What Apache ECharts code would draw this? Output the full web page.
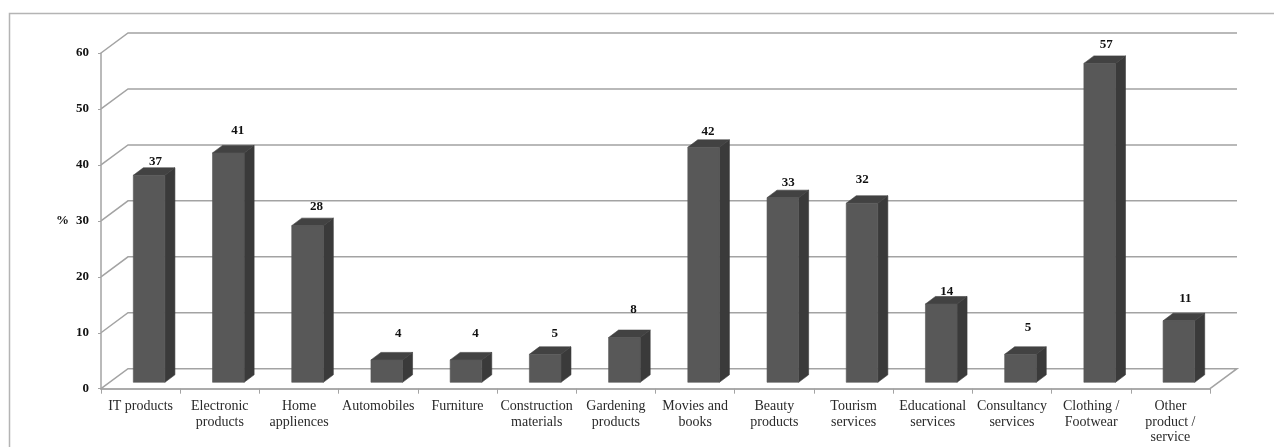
<!DOCTYPE html>
<html>
<head>
<meta charset="utf-8">
<style>html,body{margin:0;padding:0;background:#fff}#chart{width:1274px;height:447px}</style>
<script src="https://cdn.jsdelivr.net/npm/echarts@6/dist/echarts.min.js"></script>
</head>
<body>
<div id="chart"></div>
<script>
// Share of respondents per product or service category (%)
const categories = [
  'IT products', 'Electronic\nproducts', 'Home\nappliences', 'Automobiles', 'Furniture',
  'Construction\nmaterials', 'Gardening\nproducts', 'Movies and\nbooks', 'Beauty\nproducts',
  'Tourism\nservices', 'Educational\nservices', 'Consultancy\nservices', 'Clothing /\nFootwear',
  'Other\nproduct /\nservice'
];
const values = [37, 41, 28, 4, 4, 5, 8, 42, 33, 32, 14, 5, 57, 11];
const yTicks = [0, 10, 20, 30, 40, 50, 60];

// Hand placement of the value labels, relative to the category centre and the bar top
const labelShiftX = [15, 18, 17.5, 20, 18, 18, 17.5, 13, 14, 8.6, 14, 16, 15, 15];
const labelLift = [14, 22.5, 19, 26, 26, 21, 27.5, 16, 15, 23.7, 12, 26.4, 19, 22];

// Oblique projection used for the pseudo-3D walls and columns
const WALL_DX = 27, WALL_DY = -20;
const BAR_WIDTH = 31.6, BAR_DX = 10, BAR_DY = -7.5;
const BAR_SHIFT_X = 8.5, BAR_SHIFT_Y = -6.4;

const GRID_COLOR = '#a3a3a3';
const FONT = '"Liberation Serif", "Times New Roman", serif';

function renderWall(params, api) {
  const cs = params.coordSys;
  const p = api.coord([0, api.value(0)]);
  const x0 = cs.x, x1 = cs.x + cs.width, y = p[1];
  const pts = [[x0, y], [x0 + WALL_DX, y + WALL_DY], [x1 + WALL_DX, y + WALL_DY]];
  // the floor also closes its right-hand edge
  if (api.value(0) === 0) pts.push([x1, y]);
  return {
    type: 'polyline',
    shape: { points: pts },
    style: { stroke: GRID_COLOR, fill: null, lineWidth: 1.5 }
  };
}

function face(points, color) {
  return { type: 'polygon', shape: { points }, style: { fill: color, stroke: color, lineWidth: 0.6 } };
}

function renderBar(params, api) {
  const i = api.value(0), v = api.value(1);
  const top = api.coord([i, v]);
  const base = api.coord([i, 0]);
  const xl = top[0] + BAR_SHIFT_X - BAR_WIDTH / 2;
  const xr = xl + BAR_WIDTH;
  const yt = top[1] + BAR_SHIFT_Y;
  const yb = base[1] + BAR_SHIFT_Y;
  return {
    type: 'group',
    children: [
      face([[xr, yt], [xr + BAR_DX, yt + BAR_DY], [xr + BAR_DX, yb + BAR_DY], [xr, yb]], '#3a3a3a'),
      face([[xl, yt], [xl + BAR_DX, yt + BAR_DY], [xr + BAR_DX, yt + BAR_DY], [xr, yt]], '#424242'),
      face([[xl, yt], [xr, yt], [xr, yb], [xl, yb]], '#585858'),
      { type: 'text',
        style: {
          x: top[0] + labelShiftX[i],
          y: yt - labelLift[i],
          text: String(v),
          fill: '#111',
          font: 'bold 13px ' + FONT,
          textAlign: 'center',
          textVerticalAlign: 'middle'
        } }
    ]
  };
}

const chart = echarts.init(document.getElementById('chart'), null, { renderer: 'canvas' });
chart.setOption({
  animation: false,
  backgroundColor: '#fff',
  textStyle: { fontFamily: FONT },
  // Chart frame: its right and bottom edges run off the page
  graphic: [{
    type: 'rect',
    silent: true,
    z: -1,
    shape: { x: 9.5, y: 13.5, width: 1400, height: 600 },
    style: { fill: null, stroke: '#b4b4b4', lineWidth: 1.5 }
  }],
  grid: { left: 101, top: 53, width: 1109, height: 335.7, containLabel: false },
  xAxis: {
    type: 'category',
    data: categories,
    boundaryGap: true,
    axisLine: { show: true, lineStyle: { color: '#ababab', width: 2 } },
    axisTick: { show: true, alignWithLabel: false, length: 5, lineStyle: { color: '#a3a3a3', width: 1 } },
    axisLabel: { interval: 0, color: '#2a2a2a', fontFamily: FONT, fontSize: 14, lineHeight: 15.5, margin: 10 },
    splitLine: { show: false }
  },
  yAxis: {
    type: 'value',
    min: 0,
    max: 60,
    interval: 10,
    name: '%',
    nameLocation: 'middle',
    nameRotate: 0,
    nameGap: 32,
    nameTextStyle: { color: '#111', fontFamily: FONT, fontWeight: 'bold', fontSize: 13 },
    axisLine: { show: true, lineStyle: { color: '#a3a3a3', width: 1.5 } },
    axisTick: { show: true, length: 3, lineStyle: { color: '#a3a3a3' } },
    axisLabel: { color: '#111', fontFamily: FONT, fontWeight: 'bold', fontSize: 13, margin: 12 },
    splitLine: { show: false }
  },
  series: [
    {
      type: 'custom',
      name: 'walls',
      coordinateSystem: 'cartesian2d',
      renderItem: renderWall,
      data: yTicks.map(t => [t]),
      encode: { y: 0 },
      silent: true,
      z: 1
    },
    {
      type: 'custom',
      name: '%',
      coordinateSystem: 'cartesian2d',
      renderItem: renderBar,
      data: values.map((v, i) => [i, v]),
      encode: { x: 0, y: 1 },
      z: 2
    }
  ]
});
</script>
</body>
</html>
